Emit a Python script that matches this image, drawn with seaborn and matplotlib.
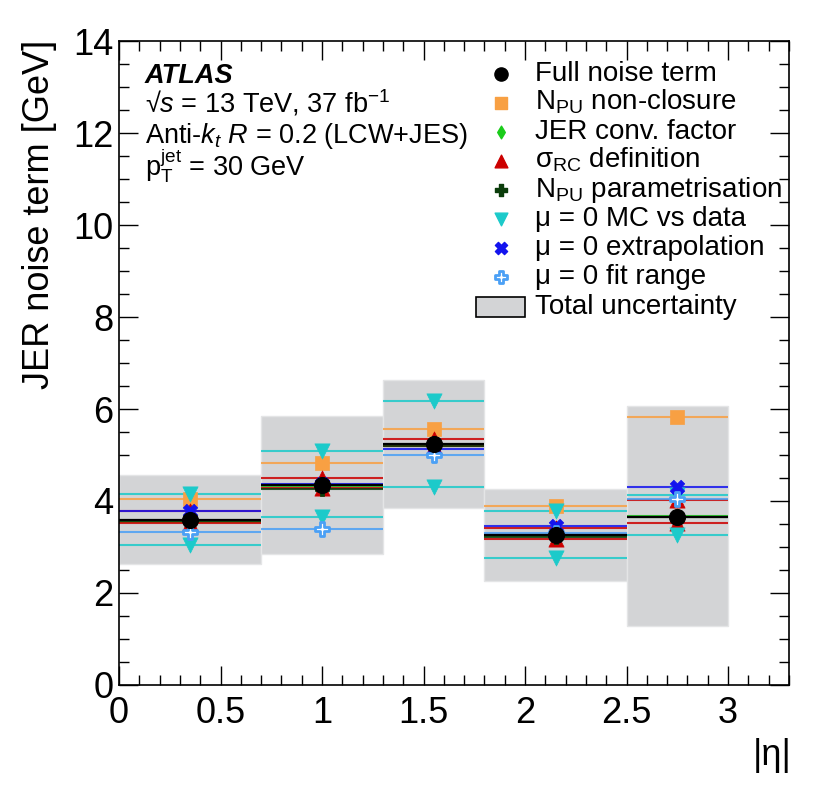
import numpy as np
import matplotlib
matplotlib.use("Agg")
import matplotlib.pyplot as plt
import seaborn as sns

# eta binning
bin_edges = [0.0, 0.7, 1.3, 1.8, 2.5, 3.0]
bin_centres = [0.35, 1.0, 1.55, 2.15, 2.75]

# noise term [GeV] per bin
full_noise = [3.59, 4.35, 5.23, 3.26, 3.66]
npu_nonclosure = [4.04, 4.82, 5.57, 3.89, 5.83]
jer_conv = [3.55, 4.32, 5.21, 3.24, 3.67]
sigma_rc_up = [3.77, 4.50, 5.35, 3.42, 4.01]
sigma_rc_down = [3.51, 4.29, 5.19, 3.18, 3.51]
npu_param = [3.57, 4.25, 5.20, 3.22, 3.66]
mc_data_up = [4.14, 5.08, 6.18, 3.79, 4.12]
mc_data_down = [3.05, 3.66, 4.31, 2.76, 3.25]
mu0_extrap = [3.77, 4.37, 5.14, 3.46, 4.31]
mu0_fitrange = [3.33, 3.38, 4.99, 3.30, 4.04]
total_lo = [2.62, 2.85, 3.84, 2.26, 1.27]
total_hi = [4.56, 5.85, 6.63, 4.26, 6.07]

sns.set_theme(style="ticks")
plt.rcParams['font.family'] = ['Liberation Sans', 'DejaVu Sans']
plt.rcParams['mathtext.fontset'] = 'custom'
plt.rcParams['mathtext.rm'] = 'Liberation Sans'
plt.rcParams['mathtext.it'] = 'Liberation Sans:italic'
plt.rcParams['mathtext.bf'] = 'Liberation Sans:bold'
plt.rcParams['text.color'] = 'black'
plt.rcParams['axes.labelcolor'] = 'black'

fig = plt.figure(figsize=(8.3, 7.9), dpi=100)
ax = fig.add_axes([0.1434, 0.1333, 0.8072, 0.8142])

lo = np.array(total_lo)
hi = np.array(total_hi)
widths = np.diff(bin_edges)
ax.bar(bin_edges[:-1], hi - lo, bottom=lo, width=widths, align='edge',
       color='#d3d4d6', edgecolor='#e4e5e6', linewidth=1, zorder=1)

# (label, list of variations, marker, colour, size)
sources = [
    ('N$_{\\mathrm{PU}}$ non-closure', [npu_nonclosure], 's', '#f8a043', 100),
    ('JER conv. factor', [jer_conv], 'd', '#1acc1a', 60),
    ('σ$_{\\mathrm{RC}}$ definition', [sigma_rc_up, sigma_rc_down], '^', '#cc0000', 120),
    ('N$_{\\mathrm{PU}}$ parametrisation', [npu_param], 'P', '#0b3d0b', 100),
    ('μ = 0 MC vs data', [mc_data_up, mc_data_down], 'v', '#1ccaca', 120),
    ('μ = 0 extrapolation', [mu0_extrap], 'X', '#1414ee', 110),
    ('μ = 0 fit range', [mu0_fitrange], 'P', '#4ba0f5', 90),
]

for i, (lab, variations, mk, col, sz) in enumerate(sources):
    for vals in variations:
        ax.hlines(vals, bin_edges[:-1], bin_edges[1:], color=col, lw=1.5, alpha=0.85, zorder=2 + i * 0.01)
        if lab.endswith('fit range'):
            sns.scatterplot(x=bin_centres, y=vals, marker=mk, s=sz, facecolor='white',
                            edgecolor=col, linewidth=2, ax=ax, zorder=4)
        else:
            sns.scatterplot(x=bin_centres, y=vals, marker=mk, s=sz, color=col,
                            edgecolor=col, linewidth=0.5, ax=ax, zorder=4)

ax.hlines(full_noise, bin_edges[:-1], bin_edges[1:], color='black', lw=1.6, zorder=3)
sns.scatterplot(x=bin_centres, y=full_noise, marker='o', s=130, color='black',
                edgecolor='black', ax=ax, zorder=5)

ax.set_xlim(0, 3.3)
ax.set_ylim(0, 14)
ax.set_xticks([0, 0.5, 1, 1.5, 2, 2.5, 3])
ax.set_xticklabels(['0', '0.5', '1', '1.5', '2', '2.5', '3'])
ax.set_yticks(np.arange(0, 15, 2))
ax.set_xticks(np.arange(0, 3.31, 0.1), minor=True)
ax.set_yticks(np.arange(0, 14.01, 0.5), minor=True)
ax.tick_params(which='both', direction='in', top=True, right=True, width=1, colors='black',
               labelsize=26)
ax.tick_params(which='major', length=14)
ax.tick_params(which='minor', length=7)
ax.tick_params(axis='x', pad=8)
ax.tick_params(axis='y', pad=4)
for sp in ax.spines.values():
    sp.set_linewidth(1.2)
    sp.set_color('black')

ax.set_xlabel('|η|', fontsize=26, loc='right')
ax.set_ylabel('JER noise term [GeV]', fontsize=26, loc='top')
ax.xaxis.set_label_coords(1.004, -0.083)
ax.yaxis.set_label_coords(-0.093, 1.002)

def px2ax(px, py):
    return (px - 119) / 670.0, (684.7 - py) / 643.2

fs_head = 19.5
fs_leg = 20
x0, y0 = px2ax(145, 83.3)
ax.text(x0, y0, 'ATLAS', transform=ax.transAxes, fontsize=fs_head, fontweight='bold', fontstyle='italic')
header = ['√$s$ = 13 TeV, 37 fb$^{\\mathrm{-1}}$',
          'Anti-$k_{t}$ $R$ = 0.2 (LCW+JES)',
          'p$_{\\mathrm{T}}^{\\mathrm{jet}}$ = 30 GeV']
for txt, py in zip(header, [112.7, 143, 176]):
    x0, y0 = px2ax(145, py)
    ax.text(x0, y0, txt, transform=ax.transAxes, fontsize=fs_head)

# legend drawn by hand, ROOT style
leg_y = [74, 103, 132, 161, 190, 219, 248, 277]
leg_entries = [('Full noise term', 'o', 'black', 90)] + [(s[0], s[2], s[3], s[4] * 0.7) for s in sources]
for (lab, mk, col, sz), py in zip(leg_entries, leg_y):
    mx, my = px2ax(500.7, py)
    if lab.endswith('fit range'):
        ax.scatter([mx], [my], marker=mk, s=sz, facecolor='white', edgecolor=col, linewidth=2,
                   transform=ax.transAxes, clip_on=False)
    else:
        ax.scatter([mx], [my], marker=mk, s=sz, color=col, transform=ax.transAxes, clip_on=False)
    tx, ty = px2ax(535, py + 7)
    ax.text(tx, ty, lab, transform=ax.transAxes, fontsize=fs_leg, va='baseline')

bx0, by0 = px2ax(476, 317)
bx1, by1 = px2ax(525, 297)
ax.add_patch(plt.Rectangle((bx0, by0), bx1 - bx0, by1 - by0, transform=ax.transAxes,
                           facecolor='#d3d4d6', edgecolor='black', lw=1.2))
tx, ty = px2ax(535, 314)
ax.text(tx, ty, 'Total uncertainty', transform=ax.transAxes, fontsize=fs_leg, va='baseline')

fig.savefig('out.png', dpi=100)
